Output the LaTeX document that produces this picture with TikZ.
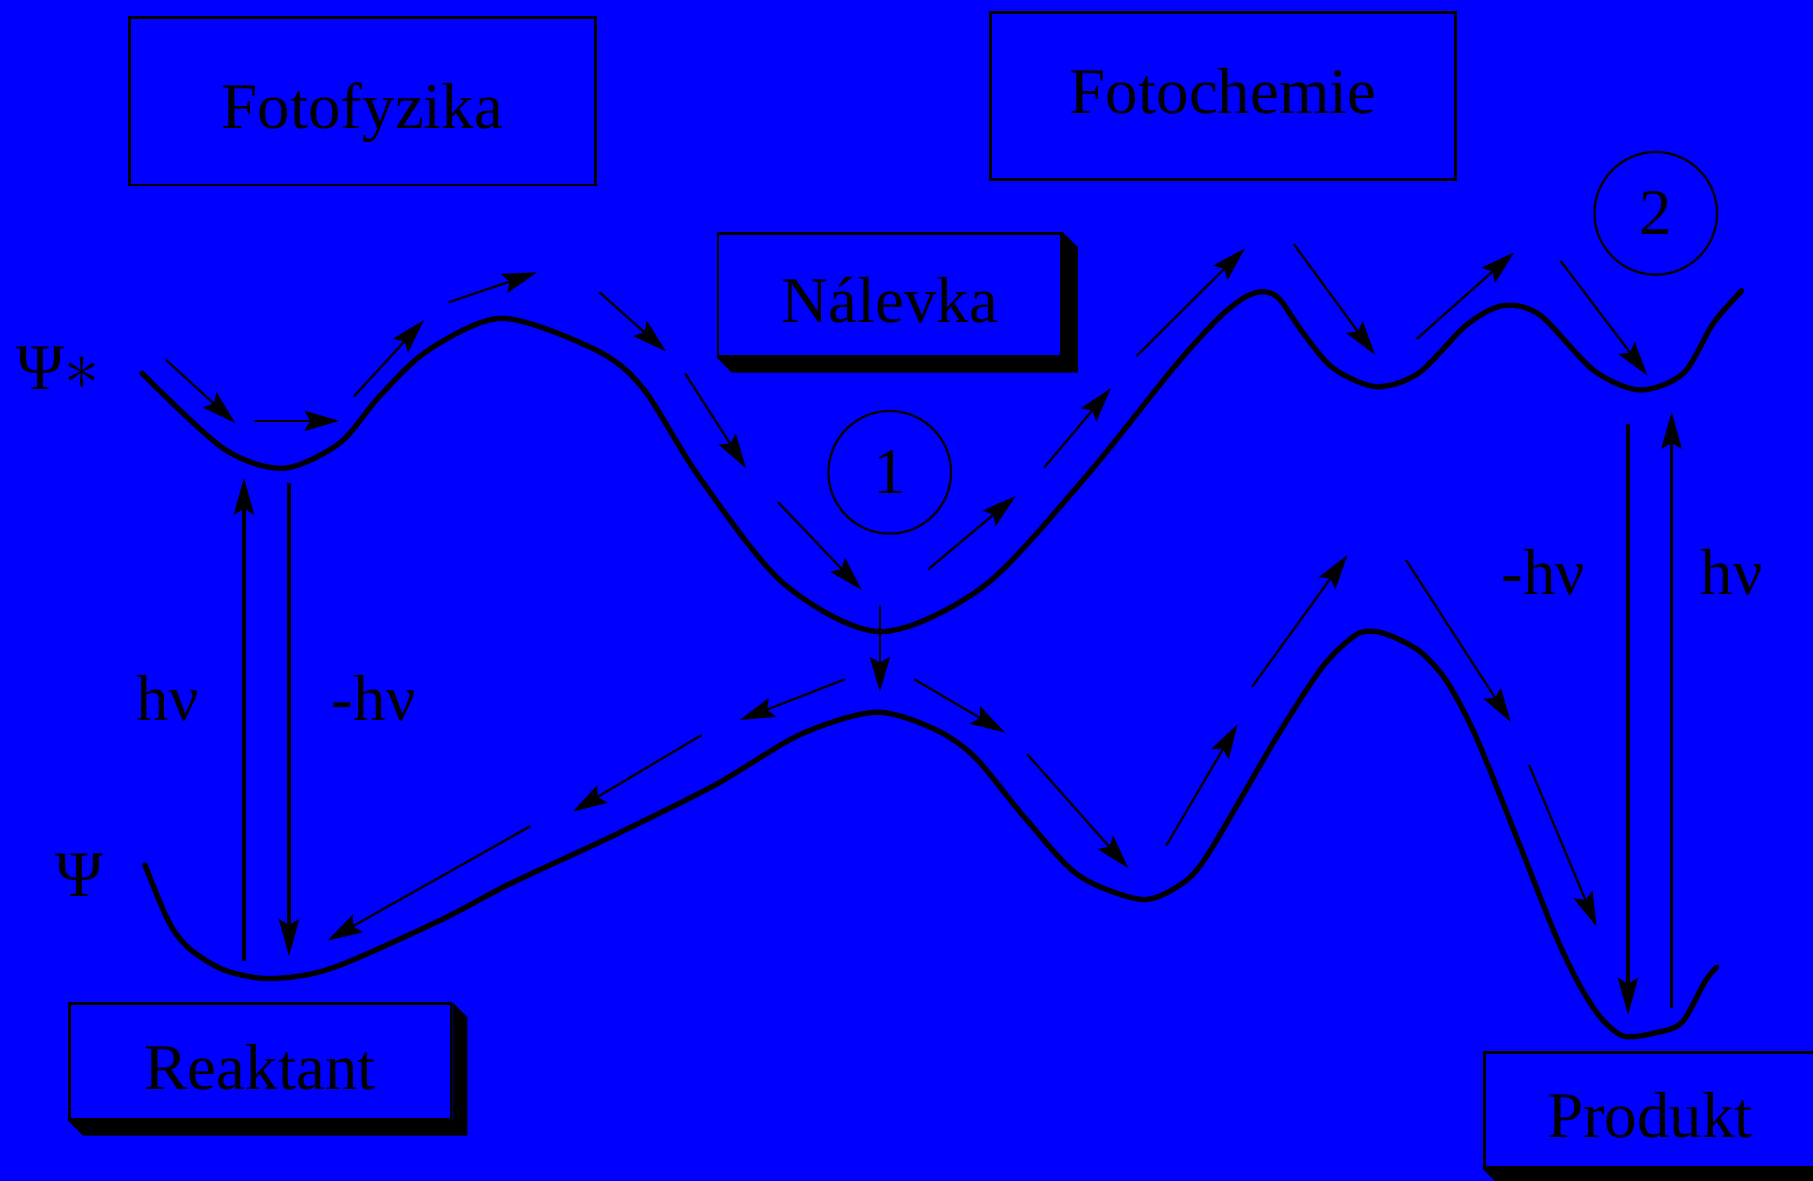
\documentclass[tikz,border=0pt]{standalone}
\usepackage{fontspec}
\setmainfont{Liberation Serif}
\usepackage{tikz}
\usetikzlibrary{arrows.meta}
\definecolor{ScreenBlue}{HTML}{0000FF}
\tikzset{
  box/.style={draw, line width=0.7pt, inner sep=0pt, text height=5mm,
              text depth=0.2mm},
  stage/.style={circle, draw, line width=0.55pt, minimum size=10.6mm, inner sep=0pt},
  tag/.style={anchor=base},
  flow/.style={-{Stealth[length=3mm, width=1.75mm, inset=0.5mm]}, line width=0.55pt},
  photon/.style={-{Stealth[length=3.2mm, width=1.75mm, inset=0.5mm]}, line width=0.8pt},
  surface/.style={line width=1.3pt, line cap=round, line join=round}
}
% extruded shadow below and right of a box
\newcommand{\dropshadow}[1]{%
  \fill (#1.south west) -- ([shift={(13,13)}]#1.south west)
    -- ([shift={(13,13)}]#1.south east) -- ([shift={(13,13)}]#1.north east)
    -- (#1.north east) -- (#1.south east) -- cycle;}

\begin{document}
\begin{tikzpicture}[x=0.1mm, y=-0.1mm, font=\fontsize{16}{19}\selectfont]
  \useasboundingbox (0,0) rectangle (1568,1021);
  \fill[ScreenBlue] (0,0) rectangle (1568,1021);

  % boxes
  \node[box, minimum width=40.3mm, minimum height=14.5mm] (fyzika) at (313.5,87.5) {Fotofyzika};
  \node[box, minimum width=40.2mm, minimum height=14.4mm, text depth=1.9mm] (chemie) at (1058,83) {Fotochemie};
  \node[box, minimum width=29.7mm, minimum height=10.6mm] (nalevka) at (769.5,255) {Nálevka};
  \node[box, minimum width=33mm, minimum height=10mm] (reaktant) at (225,918) {Reaktant};
  \node[box, minimum width=28.6mm, minimum height=10mm] (produkt) at (1427,960) {Produkt};
  \dropshadow{nalevka}
  \dropshadow{reaktant}
  \dropshadow{produkt}

  \node[stage] (jedna) at (769.5,408.5) {1};
  \node[stage] (dva) at (1432,184.5) {2};

  % labels
  \node[tag] (psiex) at (50,337) {Ψ$\ast$};
  \node[tag] (psi) at (68.4,775.3) {Ψ};
  \node[tag] (absL) at (145.2,623) {hν};
  \node[tag] (emL) at (323.2,623) {-hν};
  \node[tag] (emR) at (1334.7,514) {-hν};
  \node[tag] (absR) at (1497.6,514) {hν};

  % excited state surface
  \draw[surface] plot[smooth] coordinates {(122.8,322.7) (193,387.7) (245,405)
    (293.5,383.4) (328,343) (370.7,302.7) (434.4,275.3) (515.4,302.7) (556,335.8)
    (605.4,413.6) (677.5,504.5) (761,546.3) (850.3,507.4) (936.8,415) (1014.7,318.5)
    (1052,277) (1075,258) (1091.1,252.3) (1106,258) (1127.2,288.3) (1153.1,318.5)
    (1190,334.4) (1226.6,322.9) (1268.4,281) (1300,264.3) (1331.8,272.4) (1378,320)
    (1418.3,337.3) (1455.8,322.9) (1481.7,279.7) (1506.3,251.4)};
  % ground state surface
  \draw[surface] plot[smooth] coordinates {(125.3,748) (145.6,796.5) (163.3,820)
    (194,839) (233.8,846.3) (286.8,837.4) (379.5,796.5) (441.2,764.3) (529.5,723.2)
    (617.7,679.3) (691.9,635.4) (756.6,616) (806.8,629.9) (842.7,654.4) (885.6,706.3)
    (932.3,756.7) (986.1,777.8) (1018.3,766.8) (1043.4,740.9) (1104.4,637.1)
    (1143.9,576.6) (1172.5,549.2) (1190.4,546.3) (1210,553) (1229.9,565) (1251.4,589.5)
    (1276.5,637.1) (1316,735) (1343.4,804.3) (1363.6,847.5) (1383.7,879.3) (1403.9,896)
    (1429.8,893.7) (1454.4,884.4) (1474.5,849) (1484.6,836.5)};

  % paths along the surfaces
  \foreach \n/\xa/\ya/\xb/\yb in {
      1/143.6/311.3/203.5/366, 2/220/364/293.4/364, 3/306/343/366.7/276.8,
      4/388/261.5/464.4/235.5, 5/518.5/252.8/576/304, 6/592.4/322.9/645.2/405,
      7/673/434.4/745.2/510.2, 8/802.8/492.4/878.4/429, 9/903.1/404.4/960.8/335.8,
      10/983/307.9/1076.7/214.8, 11/1119.1/211.3/1189.2/307, 12/1225.2/293.2/1309.6/218.2,
      13/1349.7/225.7/1424.9/324.9, 14/761/523.2/761/598.2,
      15/730.8/587.5/640/622.7, 16/606.8/635.7/495.3/702, 17/458.9/714.4/283.3/813.4,
      18/790.8/587.5/869.2/633.6, 19/888.5/652.4/976/751, 20/1008.7/731.3/1070.3/626.4,
      21/1083/593.8/1165.4/480, 22/1216/484.3/1306.8/624.7, 23/1322.4/661.6/1380.8/801.4}
  {
    \coordinate (s\n) at (\xa,\ya);
    \coordinate (t\n) at (\xb,\yb);
    \draw[flow] (s\n) -- (t\n);
  }

  % absorption and emission
  \foreach \n/\xa/\ya/\xb/\yb in {
      1/211/831.5/211/413, 2/250/418/250/827,
      3/1408/366.7/1408/877.8, 4/1445.7/872/1445.7/356}
  {
    \coordinate (ps\n) at (\xa,\ya);
    \coordinate (pt\n) at (\xb,\yb);
    \draw[photon] (ps\n) -- (pt\n);
  }
\end{tikzpicture}
\end{document}
